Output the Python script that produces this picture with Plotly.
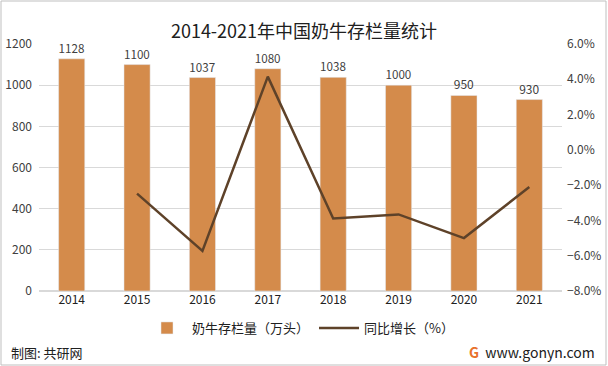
import plotly.graph_objects as go

years = ["2014", "2015", "2016", "2017", "2018", "2019", "2020", "2021"]
stock = [1128, 1100, 1037, 1080, 1038, 1000, 950, 930]
growth_years = ["2015", "2016", "2017", "2018", "2019", "2020", "2021"]
growth = [-2.48, -5.73, 4.15, -3.89, -3.66, -5.0, -2.11]

bar_color = "#D48B4B"
line_color = "#5E4229"
font_family = "Microsoft YaHei, Noto Sans CJK SC, sans-serif"

L, R, T, B = 39, 46, 44, 75
PW, PH = 608 - L - R, 366 - T - B

fig = go.Figure()
fig.add_trace(go.Bar(
    x=years, y=stock, name="奶牛存栏量（万头）",
    marker_color=bar_color, width=0.4,
    text=[str(v) for v in stock], textposition="outside",
    textfont=dict(size=12, color="#404040"), cliponaxis=False,
))
fig.add_trace(go.Scatter(
    x=growth_years, y=growth, name="同比增长（%）", yaxis="y2",
    mode="lines", line=dict(color=line_color, width=2.5),
))

fig.update_layout(
    width=608, height=366,
    margin=dict(l=L, r=R, t=T, b=B, autoexpand=False),
    paper_bgcolor="white", plot_bgcolor="white",
    font=dict(family=font_family, size=12, color="#404040"),
    title=dict(text="2014-2021年中国奶牛存栏量统计", x=0.5, xanchor="center",
               y=1 - 32 / 366, yanchor="middle",
               font=dict(size=18, color="#202020")),
    xaxis=dict(type="category", showgrid=False, showline=False, ticks="",
               automargin=False, tickfont=dict(size=12, color="#202020")),
    yaxis=dict(range=[0, 1200], dtick=200, showgrid=True, gridcolor="#D9D9D9",
               gridwidth=1, zeroline=True, zerolinecolor="#D9D9D9", automargin=False,
               tickfont=dict(size=12, color="#404040"), ticks="", ticklabelstandoff=6),
    yaxis2=dict(range=[-8, 6], dtick=2, overlaying="y", side="right", automargin=False,
                showgrid=False, zeroline=False, ticksuffix="%", tickformat=".1f",
                tickfont=dict(size=12, color="#404040"), ticklabelstandoff=4),
    legend=dict(orientation="h", x=0.5, xanchor="center", y=-37 / PH, yanchor="middle",
                font=dict(size=13, color="#202020"), itemwidth=40),
    showlegend=True,
    shapes=[dict(type="rect", xref="paper", yref="paper", x0=-(L - 1) / PW, x1=1 + (R - 2) / PW,
                 y0=-(B - 1) / PH, y1=1 + (T - 1) / PH, line=dict(color="#BFBFBF", width=1),
                 fillcolor="rgba(0,0,0,0)")],
    annotations=[
        dict(text="制图: 共研网", xref="paper", yref="paper", x=-(L - 9) / PW, y=-61 / PH,
             xanchor="left", yanchor="middle", showarrow=False,
             font=dict(size=13, color="#202020")),
        dict(text="<b style='color:#E8712B'>G</b>  www.gonyn.com", xref="paper", yref="paper",
             x=1 + (R - 11) / PW, y=-61 / PH, xanchor="right", yanchor="middle", showarrow=False,
             font=dict(size=14, color="#202020")),
    ],
)

fig.write_html("out.html", config={"displayModeBar": False},
               post_script="document.body.style.margin='0';document.body.style.overflow='hidden';")
